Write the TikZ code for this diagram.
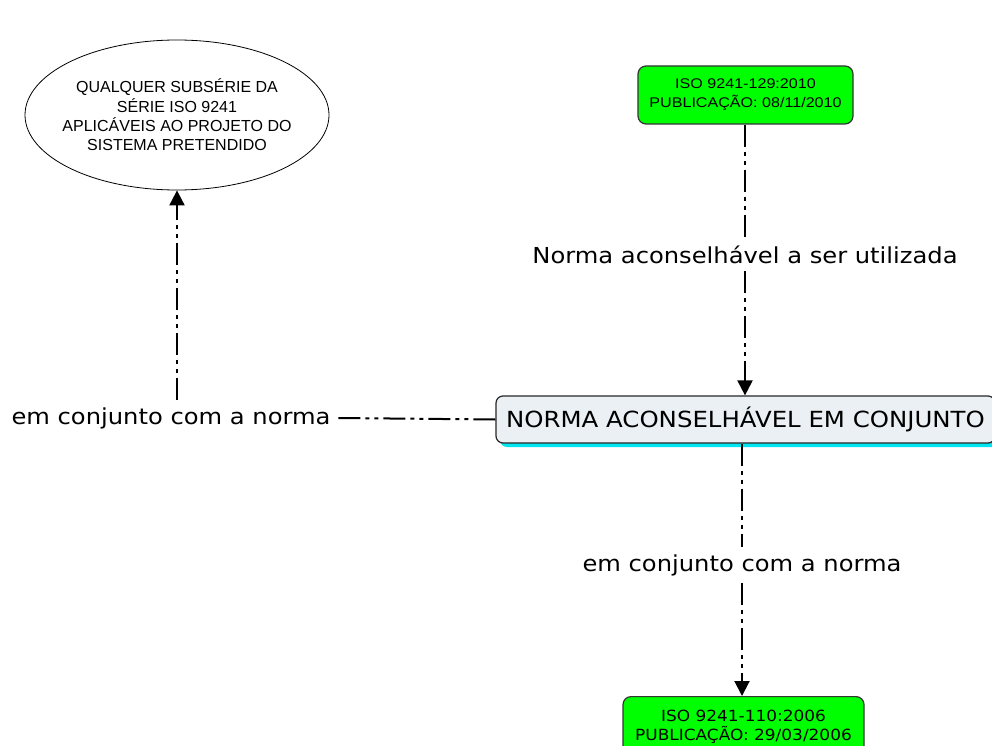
\documentclass[tikz,border=0pt]{standalone}
\usepackage{fontspec}
\setmainfont[FakeStretch=1.1]{DejaVu Sans}
\newfontfamily\arialf{Liberation Sans}
\newfontfamily\arialw[FakeStretch=1.15]{Liberation Sans}
\usetikzlibrary{arrows.meta,shapes.geometric,shadows,calc}
\begin{document}
\begin{tikzpicture}[x=1pt,y=-1pt,
  conn/.style={line width=2pt, dash pattern=on 22pt off 5pt on 4pt off 5pt on 4pt off 5pt},
  arr/.style={conn,-{Triangle[width=15pt,length=15pt]}},
  lbl/.style={font=\fontsize{22}{26}\selectfont, inner sep=7pt},
  greenbox/.style={draw=black!80, line width=1.2pt, fill={rgb,255:red,0;green,255;blue,0}, rounded corners=8pt, align=center}
]
\clip (0,0) rectangle (992,746);
\fill[white] (0,0) rectangle (992,746);
\node[ellipse, draw, line width=0.8pt, minimum width=304pt, minimum height=150pt, inner sep=0pt] (ell) at (177,115) {};
\node[align=center, font=\arialf\fontsize{16}{19.3}\selectfont] (elltext) at (ell.center)
  {QUALQUER SUBSÉRIE DA\\SÉRIE ISO 9241\\APLICÁVEIS AO PROJETO DO\\SISTEMA PRETENDIDO};
\node[greenbox, minimum width=215pt, minimum height=58pt, font=\arialw\fontsize{14}{19}\selectfont] (top) at (745.5,95)
  {ISO 9241-129:2010\\PUBLICAÇÃO: 08/11/2010};
\node[draw=black!85, line width=1.2pt, fill={rgb,255:red,234;green,240;blue,243}, rounded corners=7pt,
  minimum width=499pt, minimum height=47pt, font=\fontsize{22.2}{26}\selectfont,
  general shadow={fill={rgb,255:red,0;green,230;blue,240}, shadow xshift=4pt, shadow yshift=-4pt}] (mid) at (745.5,419.5)
  {NORMA ACONSELHÁVEL EM CONJUNTO};
\node[greenbox, anchor=north, minimum width=241pt, inner ysep=13pt, font=\fontsize{15.4}{19}\selectfont] (bot) at (743.5,696)
  {ISO 9241-110:2006\\PUBLICAÇÃO: 29/03/2006};
\node[lbl] (l1) at (745,255) {Norma aconselhável a ser utilizada};
\node[lbl] (l2) at (171,418) {em conjunto com a norma};
\node[lbl] (l3) at (742,565) {em conjunto com a norma};
\draw[conn] (top.south -| l1.north) -- (l1.north);
\draw[arr] (l1.south) -- (l1.south |- mid.north);
\draw[conn] (mid.south -| l3.north) -- (l3.north);
\draw[arr] (l3.south) -- (l3.south |- bot.north);
\draw[conn] (mid.west) -- (l2.east);
\draw[arr] (l2.north -| ell.south) -- (ell.south);
\end{tikzpicture}
\end{document}
